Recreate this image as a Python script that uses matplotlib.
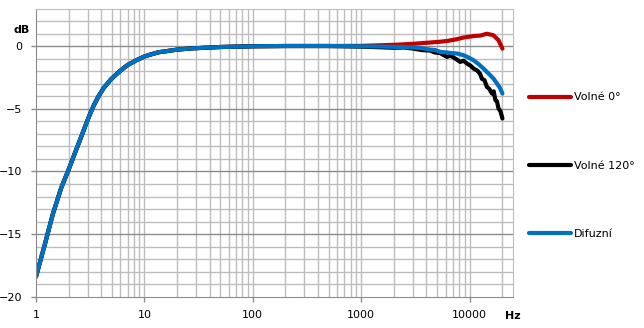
import numpy as np
import matplotlib.pyplot as plt
from matplotlib.ticker import FixedLocator, NullFormatter, FixedFormatter

# shared low-frequency part (all three curves coincide here)
f_low = [1, 1.2, 1.43, 1.71, 2, 2.27, 2.62, 2.87, 3.12, 3.42, 3.8, 4.2, 4.9, 5.5, 6, 7, 8.5, 10,
         11.4, 13.5, 20, 27, 50, 100, 200, 500]
db_low = [-18.4, -15.9, -13.4, -11.3, -9.85, -8.6, -7.2, -6.3, -5.5, -4.7, -3.95, -3.35, -2.65,
          -2.25, -1.95, -1.5, -1.1, -0.82, -0.66, -0.48, -0.27, -0.17, -0.06, 0.0, 0.02, 0.02]

# high-frequency parts
f_red = [1000, 1500, 2200, 3050, 4340, 5300, 6190, 7500, 8810, 10900, 12500, 14450, 16600, 18500, 20100]
db_red = [0.03, 0.08, 0.13, 0.2, 0.3, 0.36, 0.42, 0.55, 0.7, 0.82, 0.85, 1.0, 0.88, 0.48, -0.19]

f_blk = [1000, 1500, 2000, 2500, 3050, 3600, 4340, 4800, 5370, 5800, 6190, 6700, 7120, 7600, 8200,
         8800, 9460, 10200, 10900, 11800, 12500, 13000, 13700, 14450, 15200, 16100, 16700, 17300,
         17900, 18500, 19300, 20100]
db_blk = [-0.03, -0.08, -0.12, -0.1, -0.19, -0.3, -0.35, -0.5, -0.55, -0.72, -0.85, -0.75, -0.9, -1.05,
          -1.25, -1.15, -1.38, -1.55, -1.78, -1.95, -2.2, -2.6, -2.7, -3.24, -3.4, -3.78, -3.6, -4.3,
          -4.4, -4.97, -5.2, -5.77]

f_blu = [1000, 1500, 2000, 2500, 3050, 3600, 4340, 4800, 5370, 6190, 6900, 7660, 8300, 8810, 9800,
         10900, 12200, 13460, 15500, 16700, 17900, 19000, 20100]
db_blu = [0.0, -0.02, -0.05, -0.06, -0.1, -0.15, -0.27, -0.3, -0.45, -0.5, -0.55, -0.58, -0.66, -0.72,
          -0.9, -1.12, -1.45, -1.78, -2.31, -2.6, -2.98, -3.3, -3.78]

series = [
    ("Volné 0°", f_red, db_red, "#c00000"),
    ("Volné 120°", f_blk, db_blk, "#000000"),
    ("Difuzní", f_blu, db_blu, "#0070c0"),
]

fig = plt.figure(figsize=(6.44, 3.28), dpi=100)
ax = fig.add_axes([36 / 644, 1 - 296.7 / 328, (512.7 - 36) / 644, (296.7 - 8.7) / 328])

for name, f, db, col in series:
    ax.plot(f_low + f, db_low + db, color=col, lw=3, label=name, solid_capstyle='round')

ax.set_xscale('log')
ax.set_xlim(1, 25000)
ax.set_ylim(-20, 3)

# grid
minor_x = [m * 10 ** e for e in range(0, 5) for m in range(1, 10) if m * 10 ** e <= 20000]
for x in minor_x[1:]:
    ax.axvline(x, color='#bdbdbd', lw=1, zorder=0)
for y in range(-19, 3):
    ax.axhline(y, color='#8c8c8c' if y % 5 == 0 else '#bdbdbd', lw=1, zorder=0)

ax.spines['top'].set_color('#bdbdbd')
ax.spines['right'].set_color('#bdbdbd')
ax.spines['left'].set_color('#8c8c8c')
ax.spines['bottom'].set_color('#8c8c8c')

ax.xaxis.set_major_locator(FixedLocator([1, 10, 100, 1000, 10000]))
ax.xaxis.set_major_formatter(FixedFormatter(['1', '10', '100', '1000', '10000']))
ax.xaxis.set_minor_locator(FixedLocator([]))
ax.xaxis.set_minor_formatter(NullFormatter())
ax.set_yticks([-20, -15, -10, -5, 0])
ax.tick_params(axis='both', colors='#8c8c8c', labelcolor='black', labelsize=8, length=3.6, width=1)
ax.tick_params(axis='x', pad=6)
ax.tick_params(axis='y', pad=6)

fig.text(14 / 644, 1 - 30 / 328, 'dB', fontsize=8, fontweight='bold', ha='left', va='center')
fig.text(505 / 644, 1 - 316 / 328, 'Hz', fontsize=8, fontweight='bold', ha='left', va='center')

leg = fig.legend(loc='upper left', bbox_to_anchor=(519 / 644, 1 - 82.5 / 328), frameon=False,
                 fontsize=8, handlelength=3.8, handletextpad=0.27, labelspacing=5.24)

fig.savefig('out.png', dpi=100)
